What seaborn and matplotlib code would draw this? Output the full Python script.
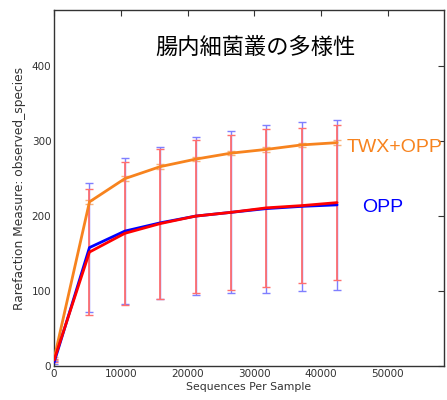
import matplotlib
matplotlib.use("Agg")
import matplotlib.pyplot as plt
import seaborn as sns
import pandas as pd
import numpy as np

depths = [10, 5300, 10600, 15900, 21200, 26500, 31800, 37100, 42400]
twx_mean = [10, 219, 250, 266, 276, 284, 289, 295, 298]
twx_err = [2, 3, 3, 3, 3, 3, 3, 3, 3]
opp_blue_mean = [5, 158, 180, 191, 200, 205, 210, 213, 215]
opp_blue_err = [2, 86, 97, 101, 105, 108, 112, 113, 113]
opp_red_mean = [8, 152, 177, 190, 200, 205, 211, 214, 218]
opp_red_err = [2, 84, 95, 100, 102, 103, 105, 103, 103]

# name, means, errors, line colour, error-bar colour, error-bar width
series = [
    ("TWX+OPP", twx_mean, twx_err, "#f7831e", "#f9b27a", 1.0),
    ("OPP_b", opp_blue_mean, opp_blue_err, "#0000ff", "#7f7fff", 1.0),
    ("OPP_r", opp_red_mean, opp_red_err, "#ff0000", "#ff6f6f", 1.3),
]

sns.set_style("white")
plt.rcParams['font.family'] = ['DejaVu Sans', 'Noto Sans CJK JP']
plt.rcParams['xtick.direction'] = 'in'
plt.rcParams['ytick.direction'] = 'in'

fig = plt.figure(figsize=(4.47, 4.0), dpi=100)
ax = fig.add_axes([0.121, 0.085, 0.872, 0.89])

for name, m, e, c, ec, lw in series:
    ax.errorbar(depths, m, yerr=e, fmt='none', ecolor=ec, elinewidth=lw,
                capsize=3, capthick=1.0, zorder=2)

for name, m, e, c, ec, lw in series:
    df = pd.DataFrame({"x": depths, "y": m})
    sns.lineplot(data=df, x="x", y="y", color=c, linewidth=2.0, ax=ax, zorder=3)

ax.set_xlim(0, 58400)
ax.set_ylim(0, 475)
ax.set_xticks([0, 10000, 20000, 30000, 40000, 50000])
ax.set_yticks([0, 100, 200, 300, 400])
ax.tick_params(axis='both', which='both', top=True, right=True, length=4,
               width=0.8, labelsize=7.5, labelcolor='#333333', color='#333333', pad=2)
for s in ax.spines.values():
    s.set_color('#333333')
    s.set_linewidth(1.0)

ax.set_xlabel("Sequences Per Sample", fontsize=7.8, color='#333333', labelpad=2)
ax.set_ylabel("Rarefaction Measure: observed_species", fontsize=8.8, color='#333333', labelpad=4)

ax.text(30100, 425, "腸内細菌叢の多様性", ha='center', va='center', fontsize=16,
        family=['Noto Sans CJK JP', 'DejaVu Sans'], color='black')
ax.text(43900, 292, "TWX+OPP", ha='left', va='center', fontsize=14,
        family=['Liberation Sans', 'DejaVu Sans'], color='#f7831e')
ax.text(46100, 212, "OPP", ha='left', va='center', fontsize=14,
        family=['Liberation Sans', 'DejaVu Sans'], color='#0000ff')

fig.savefig("out.png", dpi=100)
